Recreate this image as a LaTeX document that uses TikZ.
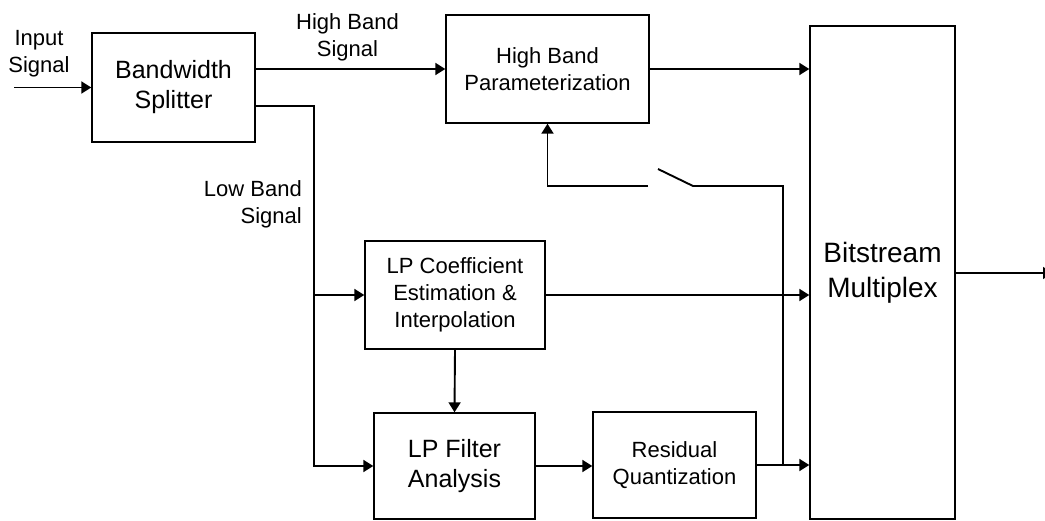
\documentclass[tikz,border=0pt]{standalone}
\usepackage{fontspec}
\setmainfont{Liberation Sans}
\usetikzlibrary{arrows.meta}
\tikzset{
  blk/.style={draw, line width=1.4pt, inner sep=0pt, align=center},
  small/.style={font=\fontsize{22}{27}\selectfont},
  big/.style={font=\fontsize{25}{30}\selectfont},
  huge/.style={font=\fontsize{28}{35}\selectfont},
  lbl/.style={inner sep=0pt, font=\fontsize{22}{27}\selectfont},
  wire/.style={line width=1.9pt},
  arr/.style={line width=1.9pt, -{Triangle[length=10pt,width=12pt]}},
}
\begin{document}
\begin{tikzpicture}[x=1pt,y=-1pt]
\useasboundingbox (0,0) rectangle (1045,521);
\clip (0,0) rectangle (1045,521);
\fill[white] (0,0) rectangle (1045,521);
% blocks
\node[blk,big,minimum width=163pt,minimum height=109pt] (split) at (173.5,87.5) {Bandwidth\\Splitter};
\node[blk,small,minimum width=203pt,minimum height=108pt] (hbp) at (547.5,69) {High Band\\Parameterization};
\node[blk,huge,minimum width=145pt,minimum height=493pt] (mux) at (882.5,272.5) {Bitstream\\Multiplex};
\node[blk,small,minimum width=180pt,minimum height=108pt] (lpc) at (455,295) {LP Coefficient\\Estimation \&\\Interpolation};
\node[blk,big,minimum width=161pt,minimum height=106pt] (lpf) at (454.5,466) {LP Filter\\Analysis};
\node[blk,small,minimum width=163pt,minimum height=106pt] (res) at (674.5,465) {Residual\\Quantization};
% labels
\node[lbl,align=center] (inl) at (39,54) {Input\\Signal};
\node[lbl,align=center] (hbl) at (347.5,37) {High Band\\Signal};
\node[lbl,align=right,anchor=east] (lbl) at (302,204) {Low Band\\Signal};
% coordinates
\coordinate (in) at (14,87.5);
\coordinate (lb) at (314,106);
\coordinate (j) at (783,465);
\coordinate (sw1) at (648,186);
\coordinate (sw2) at (693,186);
\coordinate (swt) at (658,169);
\coordinate (out) at (1053,273);
% connectors
\draw[arr] (in) -- (split.west);
\draw[arr] (split.east |- hbp.west) -- (hbp.west);
\draw[arr] (hbp.east) -- (hbp.east -| mux.west);
\draw[arr] (lb -| split.east) -- (lb) -- (lb |- lpf.west) -- (lpf.west);
\draw[arr] (lb |- lpc.west) -- (lpc.west);
\draw[arr] (lpc.east) -- (lpc.east -| mux.west);
\draw[arr] (lpc.south) -- (lpf.north);
\draw[arr] (lpf.east) -- (lpf.east -| res.west);
\draw[arr] (res.east) -- (res.east -| mux.west);
\draw[wire] (j) -- (j |- sw2) -- (sw2) -- (swt);
\draw[arr] (sw1) -- (sw1 -| hbp.south) -- (hbp.south);
\draw[line width=1.3pt, -{Triangle[length=10pt,width=12pt]}] (mux.east |- out) -- (out);
\end{tikzpicture}
\end{document}
